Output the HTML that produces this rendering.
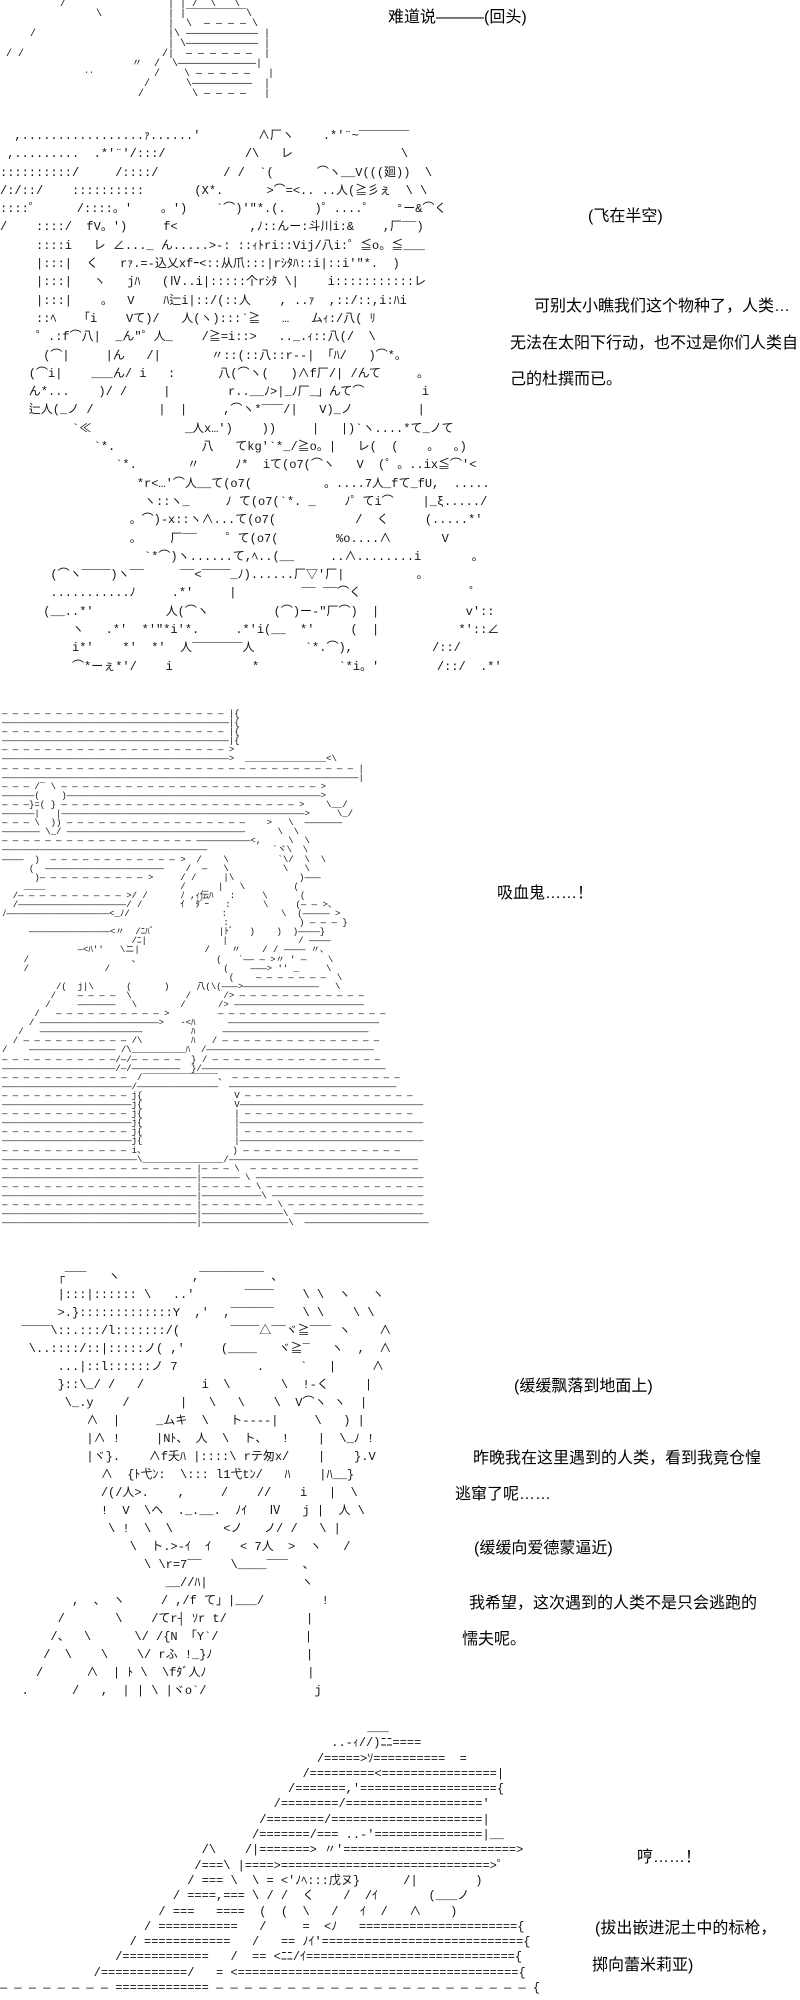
<!DOCTYPE html>
<html><head><meta charset="utf-8">
<style>
html,body{margin:0;padding:0;background:#fff;}
#c{position:relative;width:800px;height:2000px;overflow:hidden;background:#fff;color:#000;}
pre{position:absolute;margin:0;font-family:"Liberation Mono","Noto Sans CJK JP",monospace;white-space:pre;color:#111;}
.t{position:absolute;font-family:"Liberation Sans","Noto Sans CJK SC",sans-serif;font-size:16px;line-height:18px;white-space:nowrap;color:#000;}
#a1{left:0;top:0;font-size:10px;line-height:10px;}
#a2{left:0;top:127px;font-size:12px;line-height:18.3px;}
#a3{left:2px;top:710px;font-size:9px;line-height:9.1px;}
#a4{left:0;top:1268px;font-size:12px;line-height:18px;}
#a5{left:0;top:1721px;font-size:12px;line-height:15.3px;}
</style></head><body><div id="c">

<pre id="a1">          /                 | | /‾‾\   \
                \           | |‾‾‾‾‾‾‾‾‾‾\
                            |  \  — — — — \
     /                      |\ ———————————— |
                            | \———————————— |
 / /                       /|  — — — — — —  |
                      〃  /  \—————————————|
              ‥          /    \ — — — — —   |
                        /      \——————————  |
                       /        \ — — — —   |</pre>

<pre id="a2">  ,.................ｧ......'        ∧厂ヽ    .*'¨~‾‾‾‾‾‾‾
 ,.........  .*'¨'/:::/           /\   レ               \
::::::::::/     /::::/         / /  `(      ⌒ヽ__V(((廻))  \
/:/::/    ::::::::::       (X*.      >⌒=<.. ..人(≧彡ぇ  \ \
::::゜     /::::。'    。')    `⌒)'"*.(.    )゜....゜   °ー&⌒く
/    ::::/  fV。')     f<          ,ﾉ::んー:斗川i:&    ,厂‾‾)
     ::::i   レ ∠..._ ん.....>-: ::ｨﾄri::Vij/八i:゜≦o。≦___
     |:::|  く   rｧ.=-込乂xfｰ<::从爪:::|rｼﾀﾊ::i|::i'"*.  )
     |:::|   ヽ   jﾊ   (Ⅳ..i|:::::个rｼﾀ \|    i:::::::::::レ
     |:::|    。  V    ﾊ辷i|::/(::人    , ..ｧ  ,::/::,i:ﾊi
     ::ﾍ   「i    Vて)/   人(ヽ):::`≧   …   ムｨ:/八( ﾘ
     ゜.:f⌒八|  _ん"゜人_    /≧=i::>   .._.ｨ::八(/  \
      (⌒|     |ん   /|       〃::(::八::r--| 「ﾊ/   )⌒*。
    (⌒i|    ___ん/ i   :      八(⌒ヽ(   )∧f厂/| /んて     。
    ん*...    )/ /     |        r..__ﾉ>|_ﾉ厂_」んて⌒        i
    辷人(_ノ /         |  |     ,⌒ヽ*‾‾‾/|   V)_ノ         |
          `≪             _人x…')    ))     |   |)`ヽ....*て_ノて
             `*.            八   てkg'`*_/≧o。|   レ(  (    。  。)
                `*.       〃     ﾉ*  iて(o7(⌒ヽ   V  (゜。..ix≦⌒'<
                   *r<…'⌒人__て(o7(          。....7人_fて_fU,  .....
                    ヽ::ヽ_     ﾉ て(o7(`*. _    ﾉ゜てi⌒    |_ξ...../
                  。⌒)-x::ヽ∧...て(o7(           /  く     (.....*'
                  。    厂‾‾    ゜て(o7(        %o....∧       V
                    `*⌒)ヽ......て,ﾍ..(__     ..∧........i       。
       (⌒ヽ‾‾‾‾)ヽ‾‾     ‾‾<‾‾‾‾_ﾉ)......厂▽'厂|          。
       ...........ﾉ     .*'     |         ‾‾ ‾‾⌒く               ゜
      (__..*'          人(⌒ヽ         (⌒)ー‐"厂⌒)  |            v'::
          ヽ   .*'  *'"*i'*.     .*'i(__  *'     (  |           *'::∠
          i*'    *'  *'  人‾‾‾‾‾‾‾人       `*.⌒),           /::/
          ⌒*ーぇ*'/    i           *           `*i。'        /::/  .*'</pre>

<pre id="a3">— — — — — — — — — — — — — — — — — — — — — |{
——————————————————————————————————————————|{
— — — — — — — — — — — — — — — — — — — — — |{
——————————————————————————————————————————|{
— — — — — — — — — — — — — — — — — — — — — >
——————————————————————————————————————————>  _______________<\
— — — — — — — — — — — — — — — — — — — — — — — — — — — — — — — — — |
——————————————————————————————————————————————————————————————————|
— — — /‾ \ — — — — — — — — — — — — — — — — — — — — — — — — >
——————(    )———————————————————————————————————————————————>
— — —}=( } — — — — — — — — — — — — — — — — — — — — — — >    \__/
——————|   |—————————————————————————————————————————————>     \_/
— — — \  )) — — — — — — — — — — — — — — — — —    >   \  ———————
——————— \_/ —————————————————————————————————      \  \
— — — — — — — — — — — — — — — — — — ——————————<,     \  \
——————————————————————————————————————            `ヾ\  \
————  )  — — — — — — — — — — — — >  /    \         `\/  \  \
     (  ——————————————————————    /  —   \          \   \
      )— — — — — — — — — — >     / /     |\            )———
    ____                         /      |   \         (
  /— — — — — — — — — — >/ /      ﾉ ,ｨ伝ﾊ   :     \      (
  /————————————————————/ /       ｲ  ﾀﾞｰ   :      \     (— — >、
ﾉ———————————————————<_ﾉ/                 :          \  (————— >
                                         :             ) — — — }
     ———————————————<〃  /ﾆﾊﾞ            |ﾄﾞ   )    )  )————}
                        /ﾆ|              |             / ———— 
              —<ﾊ''   \ニ|            /    〃    / / ———— 〃、
    /                   、              (   `—— — >〃 ' —    \
    /              /                     (    ———> '' _     \
                                          (    — — — — — — —  \
          /(  j|\      (      )     八(\(———>——————————————   \
         /    — — — —  \          /      /> — — — — — — — — — — — —
        /     ———————   \        /      /> ————————————————————————
      /   — — — — — — — — — — >         — — — — — — — — — — — — — — — —
     / ——————————————————————>   -<ﾊ      ————————————————————————————
   /   ———————————————————         ﾊ     ———————————————————————————
  / — — — — — — — — — — /\         ﾊ   / — — — — — — — — — — — — — — —
/    ———————————————— /\__________ﾊ  /———————————————————————————————
— — — — — — — — — — —/—/— — — — —  } / — — — — — — — — — — — — — — — —
—————————————————————/—/—————————  }/——————————————————————————————————
— — — — — — — — — — — —  /‾‾‾‾‾‾‾‾‾‾‾‾‾‾、 — — — — — — — — — — — — — — — —
————————————————————————/———————————————  ———————————————————————————————
— — — — — — — — — — — — j{                 V — — — — — — — — — — — — — — — —
————————————————————————j{                 V——————————————————————————————————
— — — — — — — — — — — — j{                 | — — — — — — — — — — — — — — — —
————————————————————————j{                 |——————————————————————————————————
— — — — — — — — — — — — j{                 | — — — — — — — — — — — — — — — —
————————————————————————j{                 |——————————————————————————————————
— — — — — — — — — — — — i、                ) — — — — — — — — — — — — — — — 
—————————————————————————\_______________/———————————————————————————————————
— — — — — — — — — — — — — — — — — — |— — — \  — — — — — — — — — — — — — — — —
————————————————————————————————————|——————— \ ———————————————————————————————
— — — — — — — — — — — — — — — — — — |— — — — — \ — — — — — — — — — — — — — — —
————————————————————————————————————|———————————\ ————————————————————————————
— — — — — — — — — — — — — — — — — — |— — — — — — — \ — — — — — — — — — — — — —
————————————————————————————————————|———————————————\ ————————————————————————
————————————————————————————————————|————————————————\  ———————————————————————</pre>

<pre id="a4">        ┌‾‾‾   ヽ          ,‾‾‾‾‾‾‾‾‾ 、  
        |:::|:::::: \   ..'       ‾‾‾‾    \ \  ヽ   ヽ
        >.}:::::::::::::Y  ,'  ,‾‾‾‾‾‾    \ \    \ \
   ‾‾‾‾\::.:::/l:::::::/(       ‾‾‾‾△‾‾ヾ≧‾‾‾ ヽ    ∧
    \..::::/::|:::::ノ( ,'     (____   ヾ≧‾   ヽ  ,  ∧
        ...|::l::::::ノ 7           .     `   |     ∧
        }::\_/ /   /        i  \       \  !-く     |
         \_.y    /       |   \   \    \  V⌒ヽ ヽ  |
            ∧  |     _ムキ  \   ト‐‐‐‐|     \   ) |
            |∧ !     |Nﾄ、 人  \  ト、  !    |  \_ﾉ !
            |ヾ}.    ∧f夭ﾊ |::::\ rテ匆x/    |    }.V
              ∧  {ﾄ弋ﾝ:  \::: l1弋tﾝ/   ﾊ    |ﾊ__}
              /(/人>.    ,     /    //    i   |  \
              !  V  \ヘ  ._.__.  ﾉｲ   Ⅳ   j |  人 \
               \ !  \  \       <ノ   ノ/ /   \ |
                  \  ト.>-ｲ  ｲ    < 7人  >  ヽ   /
                    \ \r=7‾‾    \____‾‾‾  、
                       __//ﾊ|             ヽ
          ,  、 ヽ     / ,/f て」|___/        !
        /       \    /てr┤ ｿr t/           |
       /、  \      \/ /{N 「Y`/            |
      /  \    \    \/ rふ !_}ﾉ             |
     /      ∧  | ﾄ \  \fﾀﾞ人ﾉ              |
   .      /   ,  | | \ |ヾo`/               j</pre>

<pre id="a5">                                                   ___
                                              ..-ｨ//)ﾆﾆ====
                                            /=====>ｿ==========  =
                                          /=========<================|
                                        /=======,'==================={
                                      /========/==================='
                                    /========/=====================|
                                   /=======/=== ..-'===============|__
                            /\    /|=======> 〃'========================>
                           /===\ |====>=============================>゜
                          / === \  \ = <'ﾉﾍ:::戊ヌ}      /|        )
                        / ====,=== \ / /  く    /  /ｲ       (___ノ
                      / ===   ====  (  (  \   /   ｲ  /   ∧    )
                    / ===========   /     =  <ﾉ   ======================{
                  / ============   /   == ﾉｲ'============================{
                /============   /  == <ﾆﾆ/ｲ============================={
             /============/   = <======================================={
— — — — — — — — ============= — — — — — — — — — — — — — — — — — — — — — — {
===========================================================================</pre>

<div class="t" style="left:388px;top:9px;">难道说———(回头)</div>
<div class="t" style="left:588px;top:208px;">(飞在半空)</div>
<div class="t" style="left:534px;top:298px;">可别太小瞧我们这个物种了，人类…</div>
<div class="t" style="left:510px;top:335px;">无法在太阳下行动，也不过是你们人类自</div>
<div class="t" style="left:510px;top:371px;">己的杜撰而已。</div>
<div class="t" style="left:497px;top:885px;">吸血鬼……！</div>
<div class="t" style="left:514px;top:1378px;">(缓缓飘落到地面上)</div>
<div class="t" style="left:473px;top:1450px;">昨晚我在这里遇到的人类，看到我竟仓惶</div>
<div class="t" style="left:455px;top:1486px;">逃窜了呢……</div>
<div class="t" style="left:474px;top:1540px;">(缓缓向爱德蒙逼近)</div>
<div class="t" style="left:469px;top:1595px;">我希望，这次遇到的人类不是只会逃跑的</div>
<div class="t" style="left:462px;top:1631px;">懦夫呢。</div>
<div class="t" style="left:637px;top:1849px;">哼……！</div>
<div class="t" style="left:595px;top:1920px;">(拔出嵌进泥土中的标枪，</div>
<div class="t" style="left:592px;top:1957px;">掷向蕾米莉亚)</div>

</div></body></html>
